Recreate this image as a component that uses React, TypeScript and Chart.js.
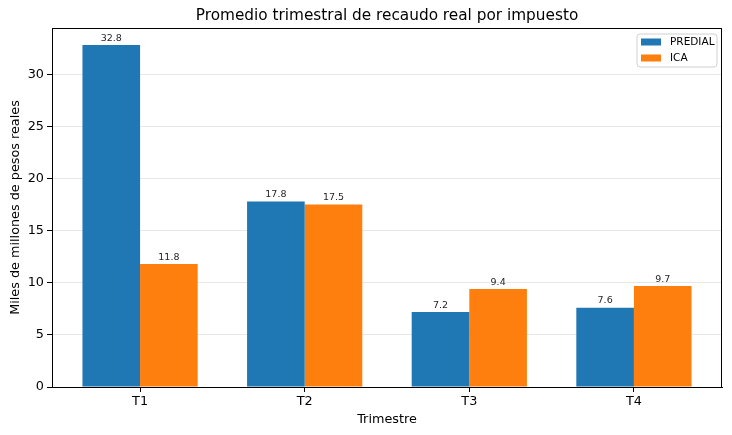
import React, { useEffect, useRef } from "react";
import { Chart, registerables } from "chart.js";

Chart.register(...registerables);

const categories = ["T1", "T2", "T3", "T4"];
const seriesNames = ["PREDIAL", "ICA"];
const predialValues = [32.8, 17.8, 7.2, 7.6];
const icaValues = [11.8, 17.5, 9.4, 9.7];
const yTicks = [0, 5, 10, 15, 20, 25, 30];
const colors = ["#1f77b4", "#ff7f0e"];

const FONT = "'DejaVu Sans', sans-serif";

const decorPlugin = {
  id: "decor",
  afterDatasetsDraw(chart: any) {
    const ctx = chart.ctx;
    ctx.save();
    ctx.font = `9.5px ${FONT}`;
    ctx.fillStyle = "#262626";
    ctx.textAlign = "center";
    ctx.textBaseline = "bottom";
    chart.data.datasets.forEach((ds: any, di: number) => {
      const meta = chart.getDatasetMeta(di);
      meta.data.forEach((bar: any, i: number) => {
        const v = ds.data[i].y;
        ctx.fillText(v.toFixed(1), bar.x, bar.y - 2);
      });
    });
    ctx.restore();
  },
  afterDraw(chart: any) {
    const ctx = chart.ctx;
    const { left, right, top, bottom } = chart.chartArea;
    ctx.save();
    // spines
    ctx.strokeStyle = "#000";
    ctx.lineWidth = 1;
    ctx.strokeRect(Math.round(left) + 0.5, Math.round(top) + 0.5, Math.round(right - left) - 1, Math.round(bottom - top));
    // title
    ctx.fillStyle = "#000";
    ctx.font = `15.3px ${FONT}`;
    ctx.textAlign = "center";
    ctx.textBaseline = "middle";
    ctx.fillText("Promedio trimestral de recaudo real por impuesto", (left + right) / 2, 16);
    // legend
    const bx = right - 85, by = top + 6, bw = 80, bh = 33;
    ctx.fillStyle = "rgba(255,255,255,0.8)";
    ctx.strokeStyle = "#d0d0d0";
    ctx.lineWidth = 1;
    ctx.beginPath();
    const r = 3;
    ctx.moveTo(bx + r, by);
    ctx.arcTo(bx + bw, by, bx + bw, by + bh, r);
    ctx.arcTo(bx + bw, by + bh, bx, by + bh, r);
    ctx.arcTo(bx, by + bh, bx, by, r);
    ctx.arcTo(bx, by, bx + bw, by, r);
    ctx.closePath();
    ctx.fill();
    ctx.stroke();
    ctx.font = `10.5px ${FONT}`;
    ctx.textAlign = "left";
    ctx.textBaseline = "middle";
    seriesNames.forEach((name, i) => {
      const cy = by + 8 + i * 16;
      ctx.fillStyle = colors[i];
      ctx.fillRect(bx + 4, cy - 3.5, 20, 7);
      ctx.fillStyle = "#000";
      ctx.fillText(name, bx + 33, cy);
    });
    ctx.restore();
  },
};

export default function App() {
  const ref = useRef<HTMLCanvasElement | null>(null);
  useEffect(() => {
    document.body.style.margin = "0";
    const canvas = ref.current!;
    const chart = new Chart(canvas, {
      type: "bar",
      data: {
        datasets: [
          {
            label: seriesNames[0],
            data: predialValues.map((v, i) => ({ x: i, y: v })),
            backgroundColor: colors[0],
            categoryPercentage: 0.7,
            barPercentage: 1.0,
          },
          {
            label: seriesNames[1],
            data: icaValues.map((v, i) => ({ x: i, y: v })),
            backgroundColor: colors[1],
            categoryPercentage: 0.7,
            barPercentage: 1.0,
          },
        ],
      },
      options: {
        animation: false,
        responsive: false,
        maintainAspectRatio: false,
        layout: { padding: { top: 28, right: 10, left: 0, bottom: 0 } },
        plugins: {
          legend: { display: false },
          title: { display: false },
          tooltip: { enabled: false },
        },
        scales: {
          x: {
            type: "linear",
            offset: false,
            min: -0.535,
            max: 3.535,
            afterBuildTicks: (scale: any) => {
              scale.ticks = categories.map((_, i) => ({ value: i }));
            },
            afterFit: (scale: any) => {
              scale.height = 48;
            },
            ticks: {
              callback: (v: any) => categories[v] ?? "",
              color: "#000",
              font: { family: FONT, size: 12.8 },
              padding: 2,
              autoSkip: false,
              maxRotation: 0,
            },
            grid: { offset: false, drawOnChartArea: false, tickColor: "#000", tickLength: 5 },
            border: { display: true, color: "#000" },
            title: {
              display: true,
              text: "Trimestre",
              color: "#000",
              font: { family: FONT, size: 12.8 },
              padding: { top: 0, bottom: 8 },
            },
          },
          y: {
            min: 0,
            max: 34.44,
            z: 1,
            afterBuildTicks: (scale: any) => {
              scale.ticks = yTicks.map((v) => ({ value: v }));
            },
            afterFit: (scale: any) => {
              scale.width = 52;
            },
            ticks: {
              color: "#000",
              font: { family: FONT, size: 12.8 },
              padding: 3,
            },
            grid: { color: "rgba(176,176,176,0.3)", tickColor: "#000", tickLength: 5 },
            border: { display: true, color: "#000" },
            title: {
              display: true,
              text: "Miles de millones de pesos reales",
              color: "#000",
              font: { family: FONT, size: 12.8 },
              padding: { top: 8, bottom: 0 },
            },
          },
        },
      },
      plugins: [decorPlugin],
    } as any);
    return () => chart.destroy();
  }, []);
  return (
    <div style={{ width: 732, height: 435 }}>
      <canvas ref={ref} width={732} height={435} style={{ display: "block", width: 732, height: 435 }} />
    </div>
  );
}
